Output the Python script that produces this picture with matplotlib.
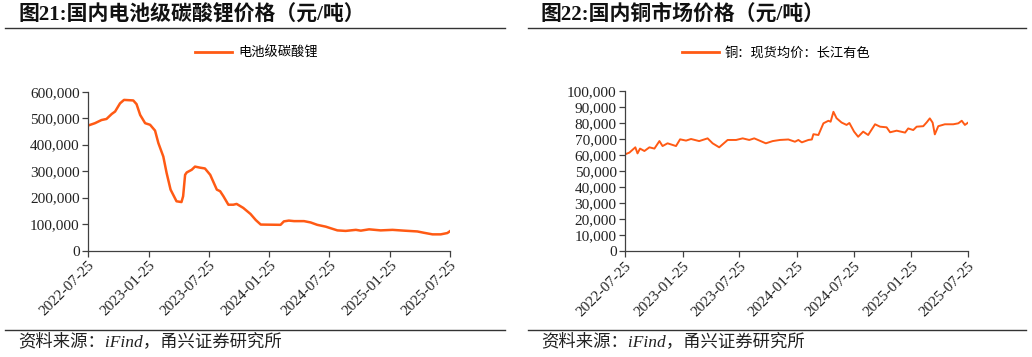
import numpy as np
import matplotlib
matplotlib.use("Agg")
import matplotlib.pyplot as plt
from matplotlib.lines import Line2D

plt.rcParams['font.family'] = ['Liberation Serif', 'Noto Sans CJK SC']

start = np.datetime64('2022-07-25')
tick_labels = ['2022-07-25', '2023-01-25', '2023-07-25', '2024-01-25',
               '2024-07-25', '2025-01-25', '2025-07-25']

# 电池级碳酸锂 (days since 2022-07-25, 千元/吨)
li_days = [0, 21, 41, 56, 72, 82, 97, 109, 137, 147,
           158, 173, 188, 203, 213, 228, 238, 250, 268, 283,
           288, 294, 299, 314, 324, 339, 354, 370, 390, 400,
           410, 425, 440, 450, 470, 492, 508, 523, 583, 593,
           608, 624, 654, 674, 694, 720, 755, 780, 811, 826,
           851, 886, 922, 957, 997, 1017, 1043, 1068, 1088, 1096]
li_price = [472, 481, 493, 497, 516, 525, 556, 569, 567, 553,
            512, 481, 475, 453, 406, 355, 293, 230, 186, 183,
            205, 286, 295, 305, 317, 313, 310, 286, 230, 224,
            205, 173, 173, 176, 161, 138, 115, 98, 97, 110,
            113, 111, 111, 106, 97, 90, 76, 74, 78, 75,
            80, 76, 78, 75, 72, 67, 61, 61, 66, 73]

# 铜：现货均价：长江有色
cu_days = [0, 14, 33, 40, 48, 62, 78, 94, 110, 120,
           136, 163, 176, 195, 211, 237, 264, 280, 301, 328,
           355, 376, 397, 413, 450, 472, 495, 522, 543, 554,
           565, 586, 597, 602, 618, 634, 650, 657, 666, 676,
           692, 708, 717, 732, 745, 761, 777, 799, 815, 836,
           847, 868, 895, 905, 921, 932, 953, 964, 974, 983,
           990, 1001, 1022, 1049, 1065, 1076, 1086, 1096]
cu_price = [60.4, 61.5, 64.8, 61, 64, 62.5, 64.8, 64, 68.7, 65.6,
            67.3, 65.6, 69.8, 69, 70, 68.7, 70.4, 67.3, 64.8, 69.4,
            69.4, 70.4, 69.4, 70.4, 67.3, 68.7, 69.4, 69.7, 68.3, 69.4,
            67.9, 69.4, 69.7, 73, 72.5, 79.8, 81.4, 80.8, 87, 83,
            80.3, 78.8, 80, 74.6, 71.4, 74.6, 72.5, 79.2, 77.7, 77.3,
            74.2, 75.2, 74, 76.6, 75.6, 77.7, 78, 80.4, 82.9, 80.2,
            72.9, 78, 79.2, 79.2, 79.8, 81.4, 78.8, 80.2]

li_dates = start + np.array(li_days).astype('timedelta64[D]')
cu_dates = start + np.array(cu_days).astype('timedelta64[D]')
li_vals = np.array(li_price) * 1000
cu_vals = np.array(cu_price) * 1000

color = '#FF5A14'
W, H = 1032, 357
fig = plt.figure(figsize=(W / 100, H / 100), dpi=100)


def px(x0, y_top, x1, y_bot):
    return [x0 / W, 1 - y_bot / H, (x1 - x0) / W, (y_bot - y_top) / H]


def style_axis(ax, ymax, ystep):
    ax.set_ylim(0, ymax)
    ax.set_yticks(np.arange(0, ymax + 1, ystep))
    ax.yaxis.set_major_formatter(matplotlib.ticker.FuncFormatter(lambda v, p: f'{int(v):,}'))
    ticks = [np.datetime64(t) for t in tick_labels]
    ax.set_xlim(ticks[0], ticks[-1])
    ax.set_xticks(ticks)
    ax.set_xticklabels(tick_labels, rotation=45, ha='right', rotation_mode='anchor')
    for s in ['top', 'right']:
        ax.spines[s].set_visible(False)
    for s in ['left', 'bottom']:
        ax.spines[s].set_color('#404040')
        ax.spines[s].set_linewidth(0.9)
    ax.tick_params(direction='out', length=4, width=0.9, color='#404040',
                   labelsize=11, labelcolor='#222222', pad=2)


def decorate(x_left, x_right, title, legend_label, ax, leg_x):
    fig.text((x_left + 13) / W, 1 - 15 / H, title, fontsize=15, fontweight='bold',
             va='center', ha='left', color='#111111')
    fig.add_artist(Line2D([x_left / W, x_right / W], [1 - 28 / H] * 2,
                          color='#333333', lw=1.0))
    fig.add_artist(Line2D([x_left / W, x_right / W], [1 - 330 / H] * 2,
                          color='#333333', lw=1.0))
    fig.text((x_left + 13) / W, 1 - 342 / H, '资料来源：iFind，甬兴证券研究所',
             fontsize=12.5, style='italic', va='center', ha='left', color='#222222')
    ax.legend([Line2D([], [], color=color, lw=2)], [legend_label],
              loc='center left', bbox_to_anchor=(leg_x / W, 1 - 53 / H),
              bbox_transform=fig.transFigure, frameon=False,
              borderaxespad=0, borderpad=0,
              prop={'family': ['Noto Sans CJK SC'], 'size': 9.5},
              handlelength=2.8, handletextpad=0.45)


ax1 = fig.add_axes(px(88, 91.7, 450, 250.5))
ax1.plot(li_dates, li_vals, color=color, lw=1.8)
style_axis(ax1, 600000, 100000)
decorate(5, 505, '图21:国内电池级碳酸锂价格（元/吨）', '电池级碳酸锂', ax1, 195)

ax2 = fig.add_axes(px(625, 91, 968, 251))
ax2.plot(cu_dates, cu_vals, color=color, lw=1.4)
style_axis(ax2, 100000, 10000)
decorate(528, 1026, '图22:国内铜市场价格（元/吨）', '铜：现货均价：长江有色', ax2, 682)

fig.savefig('out.png', dpi=100)
